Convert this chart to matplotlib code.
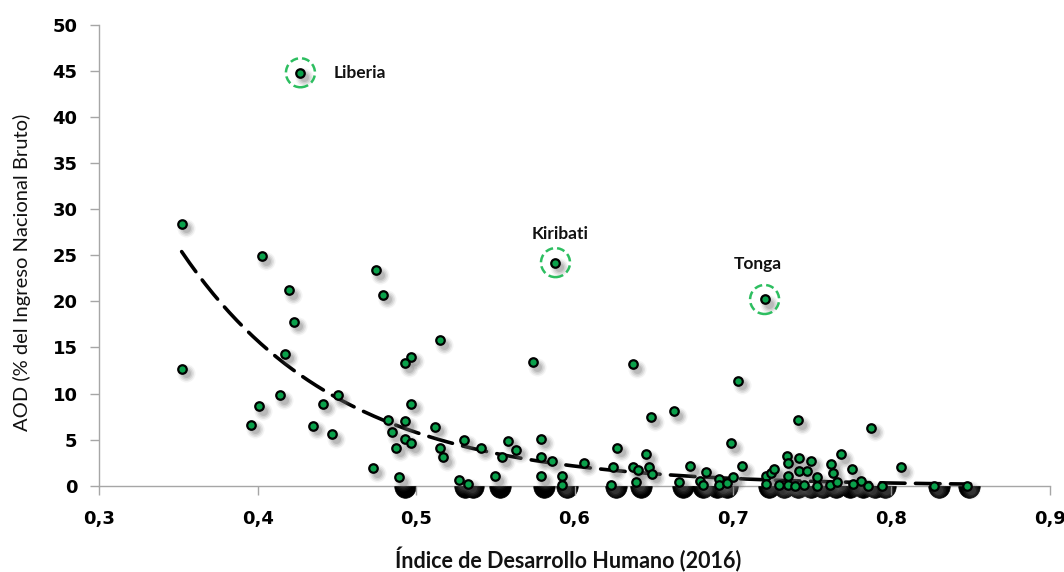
import numpy as np
import matplotlib
matplotlib.use("Agg")
import matplotlib.pyplot as plt
import matplotlib.transforms as mtransforms
from matplotlib.path import Path

# ---------------- data ----------------
HDI_X = [0.352, 0.352, 0.403, 0.420, 0.423, 0.417, 0.396, 0.401, 0.414, 0.435,
         0.441, 0.451, 0.447, 0.475, 0.479, 0.515, 0.497, 0.493, 0.497, 0.482,
         0.493, 0.485, 0.493, 0.497, 0.487, 0.512, 0.515, 0.517, 0.473, 0.489,
         0.527, 0.533, 0.530, 0.541, 0.554, 0.558, 0.563, 0.550, 0.579, 0.579,
         0.586, 0.579, 0.592, 0.592, 0.606, 0.574, 0.637, 0.703, 0.663, 0.648,
         0.624, 0.627, 0.623, 0.637, 0.640, 0.645, 0.647, 0.649, 0.639, 0.666,
         0.673, 0.683, 0.679, 0.681, 0.691, 0.691, 0.696, 0.699, 0.700, 0.706,
         0.721, 0.724, 0.726, 0.721, 0.729, 0.734, 0.735, 0.735, 0.735, 0.742,
         0.749, 0.742, 0.747, 0.753, 0.741, 0.768, 0.762, 0.775, 0.763, 0.787,
         0.806, 0.739, 0.745, 0.753, 0.761, 0.766, 0.781, 0.785, 0.794, 0.776,
         0.827, 0.848]
AOD_Y = [28.4, 12.7, 24.9, 21.2, 17.8, 14.3, 6.6, 8.6, 9.8, 6.5,
         8.9, 9.8, 5.6, 23.4, 20.7, 15.8, 14.0, 13.3, 8.9, 7.1,
         7.0, 5.8, 5.1, 4.6, 4.1, 6.4, 4.1, 3.1, 1.9, 0.9,
         0.6, 0.2, 5.0, 4.1, 3.1, 4.9, 3.9, 1.0, 5.1, 3.1,
         2.7, 1.0, 1.1, 0.1, 2.5, 13.4, 13.2, 11.4, 8.1, 7.4,
         2.0, 4.1, 0.1, 2.0, 1.7, 3.4, 2.0, 1.3, 0.4, 0.4,
         2.1, 1.5, 0.5, 0.1, 0.7, 0.1, 0.3, 4.6, 0.9, 2.1,
         1.1, 1.4, 1.8, 0.2, 0.05, 3.2, 2.5, 1.1, 0.1, 3.0,
         2.7, 1.6, 1.6, 0.9, 7.1, 3.4, 2.4, 1.8, 1.4, 6.3,
         2.0, 0.0, 0.05, 0.0, 0.1, 0.4, 0.5, 0.0, 0.0, 0.15,
         0.0, 0.0]

# countries drawn as dark markers on the zero line
ZERO_X = [0.493, 0.531, 0.536, 0.553, 0.581, 0.595, 0.626, 0.642, 0.6685,
          0.681, 0.690, 0.696, 0.723, 0.732, 0.741, 0.749, 0.757, 0.765,
          0.774, 0.782, 0.790, 0.796, 0.830, 0.849]

HIGHLIGHT_NAMES = ["Liberia", "Kiribati", "Tonga"]
HIGHLIGHT_X = [0.427, 0.588, 0.720]
HIGHLIGHT_Y = [44.8, 24.2, 20.2]

# exponential trend line: y = A * exp(B * x)
TREND_A = 858.0
TREND_B = -10.0
TREND_X0, TREND_X1 = 0.352, 0.850

X_TICKS = [0.3, 0.4, 0.5, 0.6, 0.7, 0.8, 0.9]
X_TICK_LABELS = ["0,3", "0,4", "0,5", "0,6", "0,7", "0,8", "0,9"]
Y_TICKS = [0, 5, 10, 15, 20, 25, 30, 35, 40, 45, 50]

X_TITLE = "Índice de Desarrollo Humano (2016)"
Y_TITLE = "AOD (% del Ingreso Nacional Bruto)"

# ---------------- figure ----------------
DPI = 100
fig = plt.figure(figsize=(10.64, 5.72), dpi=DPI)
ax = fig.add_axes([0.0933, 0.1509, 0.8933, 0.8057])
ax.set_xlim(0.3, 0.9)
ax.set_ylim(0, 50)

GREEN = "#0AA14B"
SPINE = "#A6A6A6"

# bottom half-disc marker
half = Path.wedge(180, 360)
half_verts = half.vertices.copy()
half_verts[:, 1] *= 1.1
half_marker = Path(half_verts, half.codes)

ax.plot(ZERO_X, [0] * len(ZERO_X), linestyle="none", marker=half_marker,
        markerfacecolor="black", markeredgecolor="black", markeredgewidth=0.5,
        markersize=17, clip_on=False, zorder=1)

# trend line
tx = np.linspace(TREND_X0, TREND_X1, 300)
ty = TREND_A * np.exp(TREND_B * tx)
ax.plot(tx, ty, color="black", linewidth=2.6, dashes=(6.8, 2.9),
        dash_capstyle="round", zorder=2)

all_x = HDI_X + HIGHLIGHT_X
all_y = AOD_Y + HIGHLIGHT_Y

# soft shadows (offset down-right)
shadow_tr = mtransforms.offset_copy(ax.transData, fig=fig, x=4.0, y=-4.5,
                                    units="dots")
for size, alpha in [(18, 0.08), (15, 0.12), (12, 0.16), (9, 0.22)]:
    ax.scatter(all_x, all_y, s=(size * 0.72) ** 2, color="#6f6f6f",
               alpha=alpha, linewidths=0, transform=shadow_tr,
               clip_on=False, zorder=2.5)

# points
ax.scatter(all_x, all_y, s=(8.5 * 0.72) ** 2, facecolor=GREEN,
           edgecolor="black", linewidths=1.6, clip_on=False, zorder=3)

# highlight circles and labels
label_offsets = [(33, 0, "left", "center"), (5, 29, "center", "center"),
                 (-7, 35, "center", "center")]
for name, hx, hy, (dx, dy, ha, va) in zip(HIGHLIGHT_NAMES, HIGHLIGHT_X,
                                           HIGHLIGHT_Y, label_offsets):
    ax.scatter([hx], [hy], s=(29 * 0.72) ** 2, facecolor="none",
               edgecolor="#2DBE60", linewidths=1.8, linestyle=(0, (3.2, 1.6)),
               zorder=3.5)
    ax.annotate(name, (hx, hy), xytext=(dx * 0.72, dy * 0.72),
                textcoords="offset points", ha=ha, va=va,
                fontsize=12.5, fontweight="bold", family="Lato",
                color="#111111", zorder=4)

# axes styling
for side in ["top", "right"]:
    ax.spines[side].set_visible(False)
for side in ["left", "bottom"]:
    ax.spines[side].set_color(SPINE)
    ax.spines[side].set_linewidth(1.0)
    ax.spines[side].set_zorder(0.5)

ax.set_xticks(X_TICKS)
ax.set_xticklabels(X_TICK_LABELS)
ax.set_yticks(Y_TICKS)
ax.tick_params(axis="both", direction="out", length=6.2, width=1.0,
               color=SPINE, labelsize=13, labelcolor="black")
ax.tick_params(axis="x", pad=11.5)
ax.tick_params(axis="y", pad=9.5)
for lab in ax.get_xticklabels() + ax.get_yticklabels():
    lab.set_fontweight("bold")
    lab.set_family("DejaVu Sans")

ax.set_xlabel(X_TITLE)
xl = ax.xaxis.label
xl.set_family("Lato")
xl.set_fontweight("bold")
xl.set_fontsize(15.5)
xl.set_color("#111111")
xl.set_va("center")
ax.xaxis.set_label_coords(0.493, -0.161)

ax.set_ylabel(Y_TITLE)
yl = ax.yaxis.label
yl.set_family("Lato")
yl.set_fontsize(14.5)
yl.set_color("#111111")
yl.set_va("center")
ax.yaxis.set_label_coords(-0.0813, 0.4637)

fig.savefig("out.png", dpi=DPI)
